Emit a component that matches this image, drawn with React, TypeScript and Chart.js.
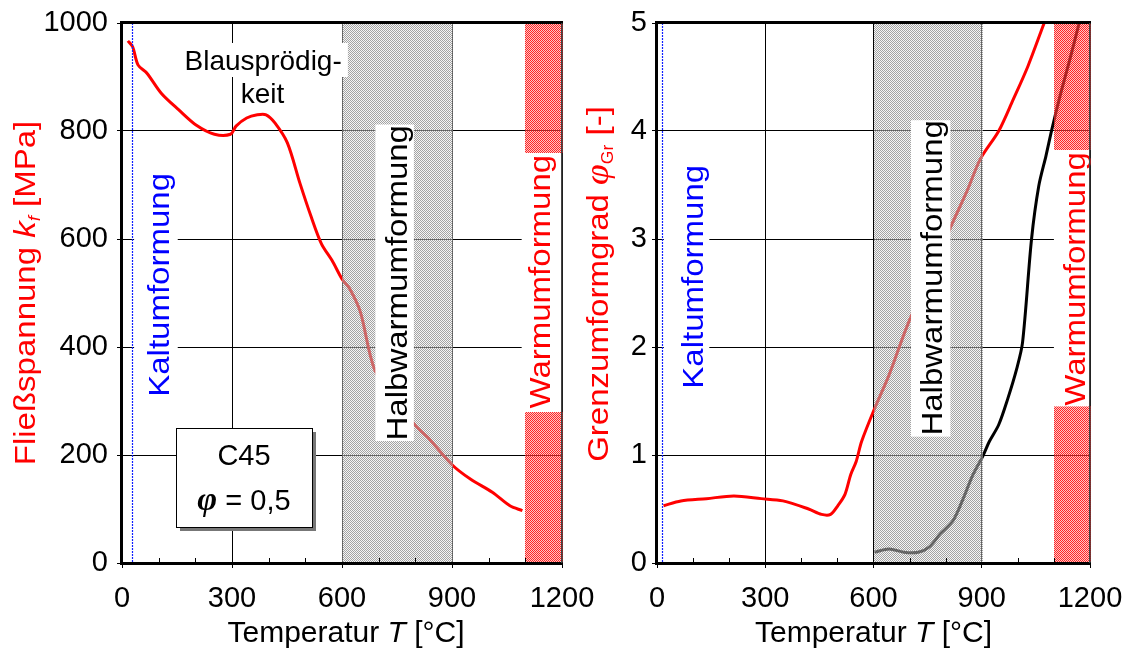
import React, { useEffect, useRef } from "react";
import { Chart, registerables } from "chart.js";

Chart.register(...registerables);

// ---------------- data ----------------
const tempMin = 0;
const tempMax = 1200;
const tempStep = 300;
const minorTicks = [100, 200, 400, 500, 700, 800, 1000, 1100];

const kfTemp = [16, 29, 44, 68, 107, 155, 204, 252, 296, 311, 340, 369, 393, 417, 451, 485, 515, 544, 573, 600, 621, 650, 689, 745, 801, 835, 900, 951, 1010, 1058, 1092];
const kfValues = [967, 956, 922, 907, 870, 839, 810, 794, 794, 809, 824, 830, 830, 815, 778, 704, 643, 591, 560, 526, 508, 465, 358, 305, 254, 232, 182, 155, 131, 106, 97];

const phiRedTemp = [18, 66, 137, 213, 289, 349, 420, 456, 481, 501, 521, 537, 552, 567, 603, 643, 694, 760, 815, 860, 896, 947, 987, 1028, 1073];
const phiRedValues = [0.53, 0.575, 0.596, 0.62, 0.596, 0.575, 0.5, 0.45, 0.45, 0.53, 0.636, 0.82, 0.94, 1.125, 1.43, 1.74, 2.2, 2.7, 3.12, 3.45, 3.74, 4.0, 4.29, 4.6, 5.0];

const phiBlackTemp = [603, 643, 684, 724, 754, 785, 820, 846, 876, 903, 921, 947, 972, 997, 1013, 1038, 1058, 1078, 1094, 1119, 1144, 1170];
const phiBlackValues = [0.1, 0.13, 0.1, 0.1, 0.147, 0.27, 0.39, 0.575, 0.82, 0.99, 1.125, 1.28, 1.52, 1.8, 2.04, 3.0, 3.49, 3.77, 4.01, 4.35, 4.66, 5.0];

const kfMax = 1000;
const kfStep = 200;
const phiMax = 5;
const phiStep = 1;

// ---------------- styling ----------------
const SANS = "'Liberation Sans', Arial, Helvetica, sans-serif";
const SERIF = "'Liberation Serif', 'DejaVu Serif', serif";
const F = (size: number, style = "") => `${style} ${size}px ${SANS}`.trim();
const STRETCH = 1.1;

type Run = { t: string; f: string; dy?: number };

function runsWidth(ctx: CanvasRenderingContext2D, runs: Run[]) {
  let w = 0;
  for (const r of runs) {
    ctx.font = r.f;
    w += ctx.measureText(r.t).width;
  }
  return w;
}

function drawRuns(
  ctx: CanvasRenderingContext2D,
  runs: Run[],
  x: number,
  y: number,
  color: string,
  rot: boolean,
  stretch = 1
) {
  ctx.save();
  ctx.translate(x, y);
  if (rot) ctx.rotate(-Math.PI / 2);
  ctx.scale(stretch, 1);
  ctx.fillStyle = color;
  ctx.textBaseline = "alphabetic";
  ctx.textAlign = "left";
  const w = runsWidth(ctx, runs);
  let cx = -w / 2;
  for (const r of runs) {
    ctx.font = r.f;
    ctx.fillText(r.t, cx, r.dy || 0);
    cx += ctx.measureText(r.t).width;
  }
  ctx.restore();
}

// soft pixel checkerboard blended over whatever is already drawn (hatched band look)
function checkerFill(
  ctx: CanvasRenderingContext2D,
  x0: number,
  y0: number,
  x1: number,
  y1: number,
  dark: number[],
  darkMix: number,
  light: number[],
  lightMix: number
) {
  const ax = Math.round(x0);
  const ay = Math.round(y0);
  const w = Math.round(x1) - ax;
  const h = Math.round(y1) - ay;
  if (w <= 0 || h <= 0) return;
  const img = ctx.getImageData(ax, ay, w, h);
  const d = img.data;
  for (let j = 0; j < h; j++) {
    for (let i = 0; i < w; i++) {
      const k = (j * w + i) * 4;
      const a = d[k + 3] / 255;
      const r = d[k] * a + 255 * (1 - a);
      const g = d[k + 1] * a + 255 * (1 - a);
      const b = d[k + 2] * a + 255 * (1 - a);
      const isDark = (ax + i + ay + j) % 2 === 0;
      const c = isDark ? dark : light;
      const m = isDark ? darkMix : lightMix;
      d[k] = Math.round(r * (1 - m) + c[0] * m);
      d[k + 1] = Math.round(g * (1 - m) + c[1] * m);
      d[k + 2] = Math.round(b * (1 - m) + c[2] * m);
      d[k + 3] = 255;
    }
  }
  ctx.putImageData(img, ax, ay);
}

type VText = { runs: Run[]; T: number; v: number; color: string };
type HText = { runs: Run[]; T: number; v: number; color: string };

type Spec = {
  canvasLeft: number;
  canvasWidth: number;
  yAxisW: number;
  rightPad: number;
  yMax: number;
  yStep: number;
  yTickPad: number;
  series: { temps: number[]; values: number[]; color: string }[];
  redBands: number[][];
  blueT: number;
  boxes: number[][];
  vtexts: VText[];
  htexts: HText[];
  c45?: boolean;
  yTitle: Run[];
  yTitleX: number;
  yTitleY: number;
  xTitleDx: number;
};

function makePlugin(spec: Spec) {
  return {
    id: "anno",
    afterDatasetsDraw(chart: any) {
      const ctx: CanvasRenderingContext2D = chart.ctx;
      const xs = chart.scales.x;
      const ys = chart.scales.y;
      const ca = chart.chartArea;
      const X = (t: number) => xs.getPixelForValue(t);
      const Y = (v: number) => ys.getPixelForValue(v);

      // gray hatched band (Halbwarmumformung)
      checkerFill(ctx, X(600), ca.top, X(900) + 1, ca.bottom, [140, 140, 140], 0.8, [230, 230, 230], 0.4);

      // red hatched bands (Warmumformung)
      for (const b of spec.redBands) {
        checkerFill(ctx, X(b[0]), Y(b[3]), X(b[1]) + 1, Y(b[2]), [255, 0, 0], 0.85, [255, 140, 140], 0.5);
      }

      ctx.save();
      // blue dotted line (Kaltumformung)
      ctx.strokeStyle = "#1020ff";
      ctx.lineWidth = 1.2;
      ctx.setLineDash([2, 1]);
      ctx.beginPath();
      const bx = Math.round(X(spec.blueT)) + 0.5;
      ctx.moveTo(bx, ca.top);
      ctx.lineTo(bx, ca.bottom);
      ctx.stroke();
      ctx.setLineDash([]);

      // white label boxes
      ctx.fillStyle = "#ffffff";
      for (const b of spec.boxes) {
        const x0 = X(b[0]);
        const x1 = X(b[1]);
        const y0 = Y(b[3]);
        const y1 = Y(b[2]);
        ctx.fillRect(x0, y0, x1 - x0, y1 - y0);
      }

      // rotated labels
      for (const t of spec.vtexts) {
        drawRuns(ctx, t.runs, X(t.T), Y(t.v), t.color, true, STRETCH);
      }
      // horizontal labels
      for (const t of spec.htexts) {
        drawRuns(ctx, t.runs, X(t.T), Y(t.v), t.color, false, 1);
      }

      // C45 info box
      if (spec.c45) {
        const x0 = Math.round(X(147));
        const x1 = Math.round(X(518));
        const y0 = Math.round(Y(250));
        const y1 = Math.round(Y(67));
        ctx.fillStyle = "#777777";
        ctx.fillRect(x0 + 4, y0 + 4, x1 - x0, y1 - y0);
        ctx.fillStyle = "#ffffff";
        ctx.fillRect(x0, y0, x1 - x0, y1 - y0);
        ctx.strokeStyle = "#000";
        ctx.lineWidth = 1;
        ctx.strokeRect(x0 + 0.5, y0 + 0.5, x1 - x0, y1 - y0);
        const cx = (x0 + x1) / 2;
        drawRuns(ctx, [{ t: "C45", f: F(29) }], cx, Y(181), "#000", false);
        drawRuns(
          ctx,
          [
            { t: "φ", f: `bold italic 34px ${SERIF}` },
            { t: " = 0,5", f: F(29) },
          ],
          cx,
          Y(98),
          "#000",
          false
        );
      }

      // minor ticks on the temperature axis (pointing inward)
      ctx.strokeStyle = "#000";
      ctx.lineWidth = 1;
      ctx.beginPath();
      for (const m of minorTicks) {
        const x = Math.round(X(m)) + 0.5;
        ctx.moveTo(x, ca.bottom);
        ctx.lineTo(x, ca.bottom - 5);
      }
      ctx.stroke();

      // frame
      ctx.fillStyle = "#000";
      const L = Math.round(ca.left);
      const R = Math.round(ca.right);
      const T = Math.round(ca.top);
      const B = Math.round(ca.bottom);
      ctx.fillRect(L - 2, T - 2, 3, B - T + 4);
      ctx.fillRect(L - 2, T - 2, R - L + 3, 3);
      ctx.fillRect(L - 2, B - 1, R - L + 3, 3);
      ctx.fillStyle = "#444";
      ctx.fillRect(R - 1, T, 1.5, B - T);

      // axis titles
      drawRuns(ctx, spec.yTitle, spec.yTitleX, spec.yTitleY, "#ff0000", true, STRETCH);
      drawRuns(
        ctx,
        [
          { t: "Temperatur ", f: F(30) },
          { t: "T", f: F(30, "italic") },
          { t: " [°C]", f: F(30) },
        ],
        (ca.left + ca.right) / 2 + spec.xTitleDx,
        642,
        "#000",
        false
      );

      ctx.restore();
    },
  };
}

function buildConfig(spec: Spec): any {
  return {
    type: "line",
    data: {
      datasets: spec.series.map((s) => ({
        data: s.temps.map((t, i) => ({ x: t, y: s.values[i] })),
        borderColor: s.color,
        borderWidth: 3,
        pointRadius: 0,
        tension: 0.3,
        fill: false,
      })),
    },
    options: {
      responsive: false,
      animation: false,
      devicePixelRatio: 1,
      layout: { padding: { top: 23, left: 0, right: spec.rightPad, bottom: 0 } },
      plugins: { legend: { display: false }, tooltip: { enabled: false } },
      scales: {
        x: {
          type: "linear",
          min: tempMin,
          max: tempMax,
          ticks: {
            stepSize: tempStep,
            color: "#000",
            font: { family: SANS, size: 29 },
            padding: 14,
            maxRotation: 0,
            autoSkip: false,
            callback: (v: any) => String(v),
          },
          grid: { color: "#000", lineWidth: 1, tickLength: 5 },
          border: { display: false },
          afterFit: (s: any) => {
            s.height = 85;
            s.paddingLeft = 0;
            s.paddingRight = 0;
          },
        },
        y: {
          type: "linear",
          min: 0,
          max: spec.yMax,
          ticks: {
            stepSize: spec.yStep,
            color: "#000",
            font: { family: SANS, size: 29 },
            padding: spec.yTickPad,
            callback: (v: any) => String(v),
          },
          grid: { color: "#000", lineWidth: 1, tickLength: 5 },
          border: { display: false },
          afterFit: (s: any) => {
            s.width = spec.yAxisW;
            s.paddingTop = 0;
            s.paddingBottom = 0;
          },
        },
      },
    },
    plugins: [makePlugin(spec)],
  };
}

const leftSpec: Spec = {
  canvasLeft: 0,
  canvasWidth: 600,
  yAxisW: 122,
  rightPad: 38,
  yMax: kfMax,
  yStep: kfStep,
  yTickPad: 9,
  series: [{ temps: kfTemp, values: kfValues, color: "#ff0000" }],
  redBands: [
    [1100, 1200, 760, 1000],
    [1100, 1200, 0, 280],
  ],
  blueT: 26,
  boxes: [
    [33, 152, 295, 735],
    [691, 796, 226, 812],
    [1090, 1200, 284, 758],
    [148, 616, 900, 963],
    [315, 461, 835, 900],
  ],
  vtexts: [
    { runs: [{ t: "Kaltumformung", f: F(30) }], T: 128, v: 515, color: "#0000ff" },
    { runs: [{ t: "Halbwarmumformung", f: F(30) }], T: 777, v: 519, color: "#000" },
    { runs: [{ t: "Warmumformung", f: F(30) }], T: 1167, v: 521, color: "#ff0000" },
  ],
  htexts: [
    { runs: [{ t: "Blausprödig-", f: F(28) }], T: 385, v: 913, color: "#000" },
    { runs: [{ t: "keit", f: F(28) }], T: 383, v: 852, color: "#000" },
  ],
  c45: true,
  yTitle: [
    { t: "Fließspannung ", f: F(30) },
    { t: "k", f: F(30, "italic") },
    { t: "f", f: F(17, "italic"), dy: 5 },
    { t: " [MPa]", f: F(30) },
  ],
  yTitleX: 35,
  yTitleY: 293,
  xTitleDx: 4,
};

const rightSpec: Spec = {
  canvasLeft: 566,
  canvasWidth: 567,
  yAxisW: 91,
  rightPad: 43,
  yMax: phiMax,
  yStep: phiStep,
  yTickPad: 5,
  series: [
    { temps: phiRedTemp, values: phiRedValues, color: "#ff0000" },
    { temps: phiBlackTemp, values: phiBlackValues, color: "#000000" },
  ],
  redBands: [
    [1100, 1200, 3.82, 5],
    [1100, 1200, 0, 1.45],
  ],
  blueT: 13,
  boxes: [
    [19, 145, 1.55, 3.75],
    [704, 813, 1.17, 4.1],
    [1100, 1200, 1.45, 3.82],
  ],
  vtexts: [
    { runs: [{ t: "Kaltumformung", f: F(30) }], T: 127, v: 2.65, color: "#0000ff" },
    { runs: [{ t: "Halbwarmumformung", f: F(30) }], T: 791, v: 2.64, color: "#000" },
    { runs: [{ t: "Warmumformung", f: F(30) }], T: 1186, v: 2.63, color: "#ff0000" },
  ],
  htexts: [],
  c45: false,
  yTitle: [
    { t: "Grenzumformgrad ", f: F(30) },
    { t: "φ", f: `italic 34px ${SERIF}` },
    { t: "Gr", f: F(16), dy: 5 },
    { t: " [-]", f: F(30) },
  ],
  yTitleX: 42,
  yTitleY: 284,
  xTitleDx: 0,
};

function ChartCanvas({ spec }: { spec: Spec }) {
  const ref = useRef<HTMLCanvasElement | null>(null);
  useEffect(() => {
    if (!ref.current) return;
    const chart = new Chart(ref.current, buildConfig(spec));
    return () => chart.destroy();
  }, [spec]);
  return (
    <canvas
      ref={ref}
      width={spec.canvasWidth}
      height={648}
      style={{
        position: "absolute",
        left: spec.canvasLeft,
        top: 0,
        width: spec.canvasWidth,
        height: 648,
      }}
    />
  );
}

export default function App() {
  return (
    <div
      style={{
        position: "absolute",
        left: 0,
        top: 0,
        width: 1133,
        height: 648,
        background: "#ffffff",
        overflow: "hidden",
      }}
    >
      <ChartCanvas spec={leftSpec} />
      <ChartCanvas spec={rightSpec} />
    </div>
  );
}
